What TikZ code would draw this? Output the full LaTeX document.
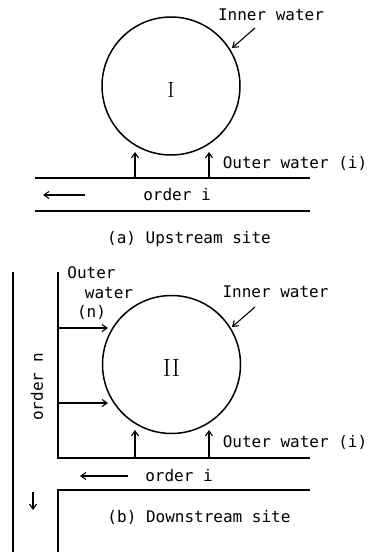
\documentclass[tikz,border=0pt]{standalone}
\usepackage{fontspec}
\newfontfamily\monof{DejaVu Sans Mono}
\usetikzlibrary{arrows.meta}
\begin{document}
\begin{tikzpicture}[x=1pt,y=-1pt,
  wall/.style={line width=1.5pt},
  flow/.style={line width=1.1pt,-{Straight Barb[length=5pt,width=7pt,line width=1.1pt]}},
  lbl/.style={font=\monof\fontsize{16}{18}\selectfont, inner sep=0pt, text height=11.5pt, text depth=0pt},
  site/.style={draw,circle,line width=1.5pt,minimum size=138pt,inner sep=0pt},
  roman/.style={inner sep=0pt}
]
\useasboundingbox (0,0) rectangle (375,553);

% ---------- (a) upstream site ----------
\node[site] (c1) at (171,86) {};
\node[roman,font=\fontsize{22}{24}\selectfont] (r1) at (171,90) {I};
\node[lbl] (iw1) at (271,15) {Inner water};
\coordinate (iw1a) at (255,28);
\coordinate (iw1b) at (232,48);
\draw[flow] (iw1a) -- (iw1b);

\coordinate (ra1) at (35,178);
\coordinate (ra2) at (310,178);
\coordinate (rb1) at (35,211);
\coordinate (rb2) at (310,211);
\draw[wall] (ra1) -- (ra2);
\draw[wall] (rb1) -- (rb2);

\coordinate (ua1) at (135,178);
\coordinate (ua1t) at (135,152);
\coordinate (ua2) at (209,178);
\coordinate (ua2t) at (209,152);
\draw[flow] (ua1) -- (ua1t);
\draw[flow] (ua2) -- (ua2t);
\node[lbl] (ow1) at (295,163) {Outer water (i)};

\coordinate (fa1) at (85,195);
\coordinate (fa2) at (43,195);
\draw[flow] (fa1) -- (fa2);
\node[lbl] (oi1) at (177,195) {order i};
\node[lbl] (capa) at (189,238) {(a) Upstream site};

% ---------- (b) downstream site ----------
\node[site] (c2) at (171.5,364.5) {};
\node[roman,font=\fontsize{25}{27}\selectfont] (r2) at (171.5,368) {II};
\node[lbl] (iw2) at (275.5,292) {Inner water};
\coordinate (iw2a) at (255,307);
\coordinate (iw2b) at (232,327);
\draw[flow] (iw2a) -- (iw2b);

\coordinate (L1) at (13,272);
\coordinate (L2) at (13,552);
\draw[wall] (L1) -- (L2);

\coordinate (V1) at (58,272);
\coordinate (V2) at (58,458);
\coordinate (V3) at (310,458);
\draw[wall] (V1) -- (V2) -- (V3);

\coordinate (W1) at (310,490);
\coordinate (W2) at (58,490);
\coordinate (W3) at (58,552);
\draw[wall] (W1) -- (W2) -- (W3);

\coordinate (ub1) at (135,458);
\coordinate (ub1t) at (135,430);
\coordinate (ub2) at (209,458);
\coordinate (ub2t) at (209,430);
\draw[flow] (ub1) -- (ub1t);
\draw[flow] (ub2) -- (ub2t);
\node[lbl] (ow2) at (295,442) {Outer water (i)};

\coordinate (hn1) at (58,328);
\coordinate (hn1t) at (108,328);
\coordinate (hn2) at (58,403);
\coordinate (hn2t) at (108,403);
\draw[flow] (hn1) -- (hn1t);
\draw[flow] (hn2) -- (hn2t);

\node[lbl] (on1) at (91.5,273) {Outer};
\node[lbl] (on2) at (109,293) {water};
\node[lbl] (on3) at (91.5,312) {(n)};

\node[lbl,rotate=90] (onn) at (37,387) {order n};

\coordinate (fb1) at (128,476);
\coordinate (fb2) at (80,476);
\draw[flow] (fb1) -- (fb2);
\node[lbl] (oi2) at (179,476) {order i};

\coordinate (dn1) at (33,492);
\coordinate (dn2) at (33,510);
\draw[flow] (dn1) -- (dn2);

\node[lbl] (capb) at (199,517) {(b) Downstream site};
\end{tikzpicture}
\end{document}
